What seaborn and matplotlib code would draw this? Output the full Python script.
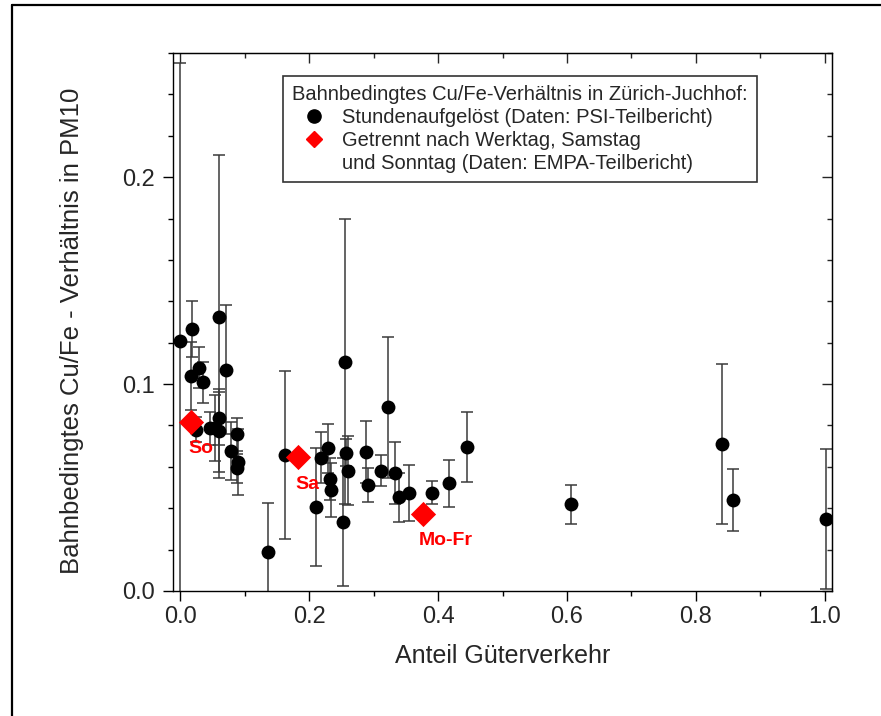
import numpy as np
import pandas as pd
import matplotlib
matplotlib.use('Agg')
import matplotlib.pyplot as plt
import seaborn as sns
from matplotlib.lines import Line2D
from matplotlib.ticker import MultipleLocator, NullFormatter

# Stundenaufgeloeste Werte (PSI): Anteil Gueterverkehr, Cu/Fe, Fehler
anteil = [0.000, 0.018, 0.017, 0.030, 0.036, 0.061, 0.071, 0.024, 0.047, 0.054,
          0.061, 0.061, 0.088, 0.079, 0.089, 0.088, 0.136, 0.163, 0.210, 0.219,
          0.229, 0.233, 0.234, 0.256, 0.252, 0.258, 0.260, 0.289, 0.292, 0.322,
          0.312, 0.333, 0.340, 0.3545, 0.390, 0.417, 0.4445, 0.6057, 0.8408, 0.858,
          1.001]
verh = [0.121, 0.1266, 0.104, 0.108, 0.1008, 0.1325, 0.107, 0.078, 0.0786, 0.0787,
        0.0834, 0.0775, 0.0757, 0.0676, 0.0622, 0.0593, 0.019, 0.0657, 0.0407, 0.0644,
        0.0689, 0.0541, 0.0488, 0.1108, 0.0335, 0.0668, 0.0581, 0.0673, 0.0512, 0.0887,
        0.058, 0.0568, 0.0453, 0.0475, 0.0475, 0.052, 0.0697, 0.042, 0.0709, 0.044,
        0.0348]
fehler = [0.134, 0.0135, 0.0165, 0.010, 0.010, 0.078, 0.031, 0.006, 0.008, 0.016,
          0.013, 0.020, 0.008, 0.014, 0.016, 0.007, 0.0234, 0.0405, 0.0285, 0.0123,
          0.0118, 0.010, 0.013, 0.0688, 0.031, 0.0066, 0.0166, 0.015, 0.008, 0.034,
          0.0075, 0.015, 0.0118, 0.0135, 0.0055, 0.0115, 0.0168, 0.0094, 0.0387, 0.0149,
          0.034]

# Werktag / Samstag / Sonntag (EMPA)
tag_x = [0.017, 0.183, 0.376]
tag_y = [0.0818, 0.0646, 0.037]
tag_lab = ['So', 'Sa', 'Mo-Fr']
tag_off = [(7, -19.5), (6.5, -19.5), (17, -19)]

psi = pd.DataFrame({'anteil': anteil, 'verh': verh, 'fehler': fehler})
empa = pd.DataFrame({'anteil': tag_x, 'verh': tag_y, 'tag': tag_lab})

sns.set_style('ticks')
plt.rcParams['font.family'] = ['Liberation Sans', 'DejaVu Sans']

fig = plt.figure(figsize=(8.81, 7.16), dpi=100)
ax = fig.add_axes([0.1964, 0.1746, 0.748, 0.7514])

ax.errorbar(psi.anteil, psi.verh, yerr=psi.fehler, fmt='none', ecolor='#3a3a3a',
            elinewidth=1.1, capsize=4.3, capthick=1.1, zorder=2)
sns.scatterplot(data=psi, x='anteil', y='verh', color='black', s=100, linewidth=0,
                ax=ax, zorder=3, legend=False)
sns.scatterplot(data=empa, x='anteil', y='verh', color='#ff0000', marker='D', s=165,
                linewidth=0, ax=ax, zorder=4, legend=False)

for xx, yy, lab, off in zip(tag_x, tag_y, tag_lab, tag_off):
    ax.annotate(lab, (xx, yy), xytext=off, textcoords='offset points', ha='center',
                va='center', color='#ff0000', fontsize=14, fontweight='bold')

ax.set_xlim(-0.011, 1.011)
ax.set_ylim(0, 0.26)
ax.xaxis.set_major_locator(MultipleLocator(0.2))
ax.xaxis.set_minor_locator(MultipleLocator(0.1))
ax.yaxis.set_major_locator(MultipleLocator(0.1))
ax.yaxis.set_minor_locator(MultipleLocator(0.02))
ax.tick_params(which='both', direction='out', width=1, labelsize=17, color='black')
ax.tick_params(which='major', length=7)
ax.tick_params(which='minor', length=3.6)
ax.tick_params(axis='y', which='major', pad=6)

sx = ax.secondary_xaxis('top')
sx.xaxis.set_major_locator(MultipleLocator(0.2))
sx.xaxis.set_minor_locator(MultipleLocator(0.1))
sx.xaxis.set_major_formatter(NullFormatter())
sx.tick_params(which='both', direction='in', width=1)
sx.tick_params(which='major', length=7)
sx.tick_params(which='minor', length=3.6)
sy = ax.secondary_yaxis('right')
sy.yaxis.set_major_locator(MultipleLocator(0.1))
sy.yaxis.set_minor_locator(MultipleLocator(0.02))
sy.yaxis.set_major_formatter(NullFormatter())
sy.tick_params(which='both', direction='in', width=1)
sy.tick_params(which='major', length=7)
sy.tick_params(which='minor', length=3.6)

for sp in ax.spines.values():
    sp.set_visible(True)
    sp.set_linewidth(1)
    sp.set_color('black')

ax.set_xlabel('Anteil Güterverkehr', fontsize=18, labelpad=12)
ax.set_ylabel('Bahnbedingtes Cu/Fe - Verhältnis in PM10', fontsize=18.5)
ax.yaxis.set_label_coords(-0.135, 0.483)

handles = [Line2D([], [], marker='o', color='black', ls='none', ms=9.5),
           Line2D([], [], marker='D', color='#ff0000', ls='none', ms=8),
           Line2D([], [], ls='none')]
labels = ['Stundenaufgelöst (Daten: PSI-Teilbericht)',
          'Getrennt nach Werktag, Samstag',
          'und Sonntag (Daten: EMPA-Teilbericht)']
leg = ax.legend(handles, labels, title='Bahnbedingtes Cu/Fe-Verhältnis in Zürich-Juchhof:',
                loc='upper left', bbox_to_anchor=(0.167, 0.957), frameon=True,
                fancybox=False, edgecolor='#333333', framealpha=1, fontsize=14.5,
                title_fontsize=14.5, alignment='left', labelspacing=0.2,
                handlelength=2.2, handletextpad=0.3, borderpad=0.45, borderaxespad=0)
leg.get_frame().set_linewidth(1.2)

fig.add_artist(Line2D([12 / 881, 12 / 881], [0, 1 - 5 / 716], transform=fig.transFigure,
                      color='black', lw=1.6))
fig.add_artist(Line2D([12 / 881, 1], [1 - 5 / 716, 1 - 5 / 716], transform=fig.transFigure,
                      color='black', lw=1.6))

fig.savefig('out.png', dpi=100)
